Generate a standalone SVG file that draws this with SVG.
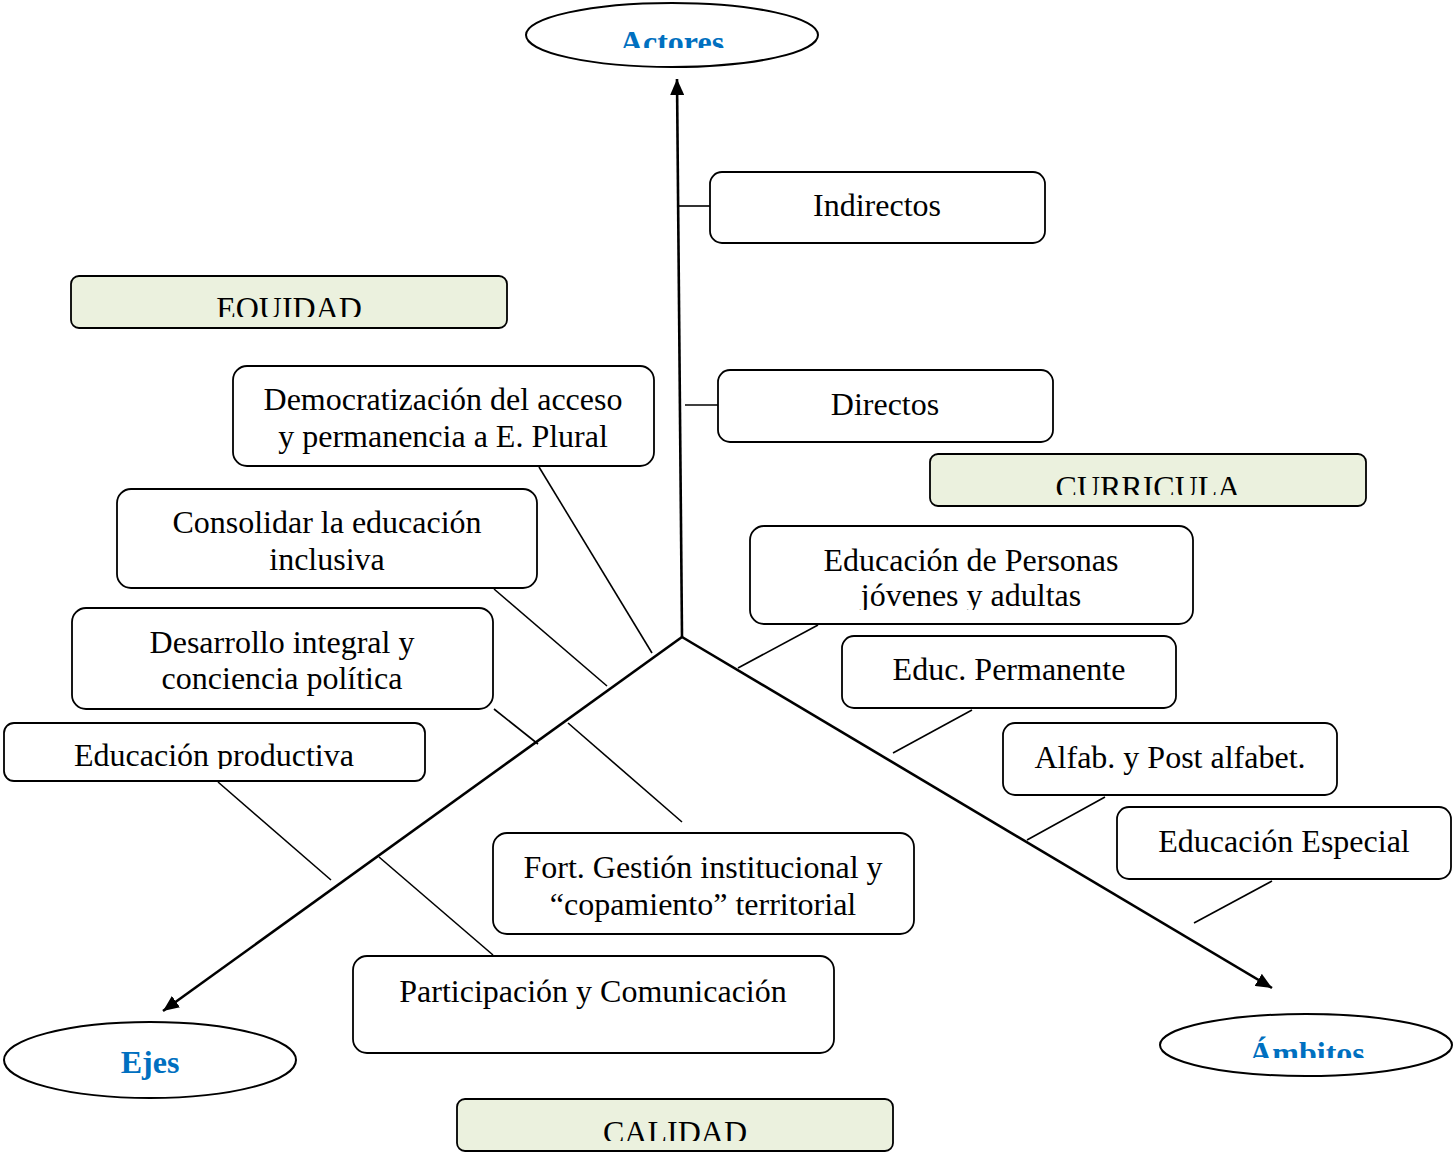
<svg xmlns="http://www.w3.org/2000/svg" width="1453" height="1157" viewBox="0 0 1453 1157">
<style>
.box{fill:#fff;stroke:#000;stroke-width:1.8}
.green{fill:#EBF1DE;stroke:#000;stroke-width:1.8}
.ell{fill:#fff;stroke:#000;stroke-width:2}
.t{font-family:"Liberation Serif","Times New Roman",serif;font-size:32px;fill:#000;text-anchor:middle}
.h{font-family:"Liberation Serif","Times New Roman",serif;font-size:32px;font-weight:bold;fill:#0070C0;text-anchor:middle}
.spine{stroke:#000;stroke-width:2.6;fill:none}
.br{stroke:#000;stroke-width:1.6;fill:none}
</style>
<defs>
<marker id="arr" markerUnits="userSpaceOnUse" markerWidth="16" markerHeight="14" refX="16" refY="7" orient="auto">
<path d="M0,0 L16,7 L0,14 Z" fill="#000"/>
</marker>
<clipPath id="cAct"><rect x="526" y="0" width="292" height="48"/></clipPath>
<clipPath id="cAmb"><rect x="1160" y="1010" width="292" height="48"/></clipPath>
<clipPath id="cEq"><rect x="71" y="276" width="436" height="41"/></clipPath>
<clipPath id="cCur"><rect x="930" y="454" width="436" height="41"/></clipPath>
<clipPath id="cCal"><rect x="457" y="1099" width="436" height="42"/></clipPath>
<clipPath id="cPer"><rect x="750" y="526" width="443" height="84"/></clipPath>
<clipPath id="cProd"><rect x="4" y="723" width="421" height="46"/></clipPath>
</defs>

<g id="connectors">
<line class="spine" x1="682" y1="637" x2="677" y2="79" marker-end="url(#arr)"/>
<line class="spine" x1="682" y1="637" x2="163" y2="1011" marker-end="url(#arr)"/>
<line class="spine" x1="682" y1="637" x2="1272" y2="988" marker-end="url(#arr)"/>
<line class="br" x1="679" y1="206" x2="710" y2="206"/>
<line class="br" x1="685" y1="405" x2="718" y2="405"/>
<line class="br" x1="539" y1="467" x2="652" y2="653"/>
<line class="br" x1="494" y1="589" x2="607" y2="686"/>
<line class="br" x1="494" y1="709" x2="538" y2="744"/>
<line class="br" x1="218" y1="782" x2="331" y2="880"/>
<line class="br" x1="568" y1="723" x2="682" y2="822"/>
<line class="br" x1="379" y1="857" x2="493" y2="955"/>
<line class="br" x1="818" y1="625" x2="738" y2="668"/>
<line class="br" x1="972" y1="710" x2="893" y2="753"/>
<line class="br" x1="1105" y1="797" x2="1027" y2="840"/>
<line class="br" x1="1272" y1="881" x2="1194" y2="923"/>
</g>

<g id="actores">
<ellipse class="ell" cx="672" cy="35" rx="146" ry="32"/>
<text class="h" x="672" y="53" clip-path="url(#cAct)">Actores</text>
</g>
<g id="ejes">
<ellipse class="ell" cx="150" cy="1060" rx="146" ry="38"/>
<text class="h" x="150" y="1073">Ejes</text>
</g>
<g id="ambitos">
<ellipse class="ell" cx="1306" cy="1045" rx="146" ry="31"/>
<text class="h" x="1307" y="1064" clip-path="url(#cAmb)">Ámbitos</text>
</g>

<g id="equidad">
<rect class="green" x="71" y="276" width="436" height="52" rx="8"/>
<text class="t" x="289" y="319" clip-path="url(#cEq)">EQUIDAD</text>
</g>
<g id="curricula">
<rect class="green" x="930" y="454" width="436" height="52" rx="8"/>
<text class="t" x="1148" y="498" clip-path="url(#cCur)">CURRICULA</text>
</g>
<g id="calidad">
<rect class="green" x="457" y="1099" width="436" height="52" rx="8"/>
<text class="t" x="675" y="1143" clip-path="url(#cCal)">CALIDAD</text>
</g>

<g id="indirectos">
<rect class="box" x="710" y="172" width="335" height="71" rx="12"/>
<text class="t" x="877" y="216">Indirectos</text>
</g>
<g id="directos">
<rect class="box" x="718" y="370" width="335" height="72" rx="12"/>
<text class="t" x="885" y="415">Directos</text>
</g>
<g id="democratizacion">
<rect class="box" x="233" y="366" width="421" height="100" rx="14"/>
<text class="t" x="443" y="410">Democratización del acceso</text>
<text class="t" x="443" y="447">y permanencia a E. Plural</text>
</g>
<g id="consolidar">
<rect class="box" x="117" y="489" width="420" height="99" rx="14"/>
<text class="t" x="327" y="533">Consolidar la educación</text>
<text class="t" x="327" y="570">inclusiva</text>
</g>
<g id="desarrollo">
<rect class="box" x="72" y="608" width="421" height="101" rx="14"/>
<text class="t" x="282" y="653">Desarrollo integral y</text>
<text class="t" x="282" y="689">conciencia política</text>
</g>
<g id="productiva">
<rect class="box" x="4" y="723" width="421" height="58" rx="10"/>
<text class="t" x="214" y="766" clip-path="url(#cProd)">Educación productiva</text>
</g>
<g id="fort">
<rect class="box" x="493" y="833" width="421" height="101" rx="14"/>
<text class="t" x="703" y="878">Fort. Gestión institucional y</text>
<text class="t" x="703" y="915">“copamiento” territorial</text>
</g>
<g id="participacion">
<rect class="box" x="353" y="956" width="481" height="97" rx="14"/>
<text class="t" x="593" y="1002">Participación y Comunicación</text>
</g>
<g id="personas">
<rect class="box" x="750" y="526" width="443" height="98" rx="14"/>
<text class="t" x="971" y="571">Educación de Personas</text>
<text class="t" x="971" y="606" clip-path="url(#cPer)">jóvenes y adultas</text>
</g>
<g id="permanente">
<rect class="box" x="842" y="636" width="334" height="72" rx="12"/>
<text class="t" x="1009" y="680">Educ. Permanente</text>
</g>
<g id="alfab">
<rect class="box" x="1003" y="723" width="334" height="72" rx="12"/>
<text class="t" x="1170" y="768">Alfab. y Post alfabet.</text>
</g>
<g id="especial">
<rect class="box" x="1117" y="807" width="334" height="72" rx="12"/>
<text class="t" x="1284" y="852">Educación Especial</text>
</g>
</svg>
